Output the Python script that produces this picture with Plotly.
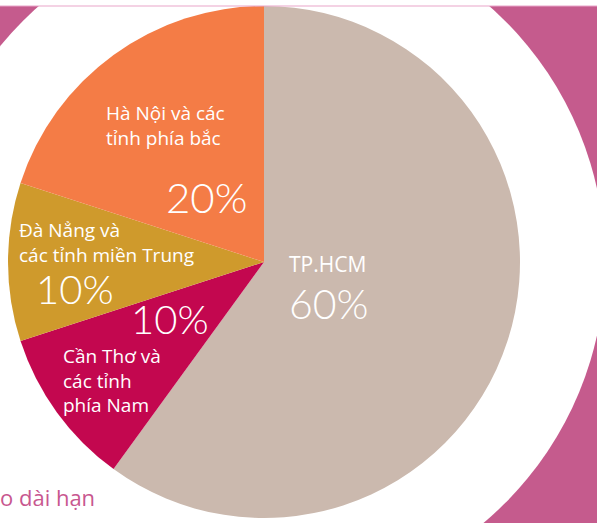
import plotly.graph_objects as go

W, H = 597, 523

regions = ["TP.HCM", "Cần Thơ và các tỉnh phía Nam", "Đà Nẳng và các tỉnh miền Trung", "Hà Nội và các tỉnh phía bắc"]
shares = [60, 10, 10, 20]
slice_colors = ["#cbb9ae", "#c3074f", "#cf9a2c", "#f47c46"]

# label texts and percent labels
label_texts = ["TP.HCM", "Cần Thơ và<br>các tỉnh<br>phía Nam", "Đà Nẳng và<br>các tỉnh miền Trung", "Hà Nội và các<br>tỉnh phía bắc"]
pct_texts = [f"{v}%" for v in shares]
footer_text = "o dài hạn"

PINK = "#c55b8d"

def px(x):
    return x / W

def py(y):
    return (H - y) / H

cx, cy, r = 264, 262, 256

fig = go.Figure(go.Pie(
    labels=regions,
    values=shares,
    sort=False,
    direction="clockwise",
    rotation=0,
    marker=dict(colors=slice_colors, line=dict(width=0)),
    textinfo="none",
    hoverinfo="label+percent",
    showlegend=False,
    domain=dict(x=[px(cx - r), px(cx + r)], y=[py(cy + r), py(cy - r)]),
))

R2 = 341
shapes = [
    dict(type="circle", xref="paper", yref="paper", layer="below",
         x0=px(cx - R2), x1=px(cx + R2), y0=py(cy + R2), y1=py(cy - R2),
         fillcolor="white", line=dict(width=0)),
    dict(type="rect", xref="paper", yref="paper", layer="below",
         x0=px(-5), x1=px(160), y0=py(530), y1=py(440),
         fillcolor="white", line=dict(width=0)),
    dict(type="rect", xref="paper", yref="paper", layer="below",
         x0=px(-5), x1=px(W + 5), y0=py(6), y1=py(-5),
         fillcolor="white", line=dict(width=0)),
    dict(type="line", xref="paper", yref="paper", layer="above",
         x0=0, x1=1, y0=py(6), y1=py(6),
         line=dict(color="#eaa6ca", width=1.2)),
]

LBL = dict(family="Open Sans, Noto Sans, sans-serif", size=19, color="white")
PCT = dict(family="Lato, Open Sans, sans-serif", size=42, color="white", weight=300)

def ann(text, x, y, font, xanchor="left", yanchor="middle"):
    return dict(text=text, x=px(x), y=py(y), xref="paper", yref="paper",
                xanchor=xanchor, yanchor=yanchor, showarrow=False,
                align="left", font=font)

annotations = [
    ann(label_texts[0], 287, 264, dict(LBL, size=21)),
    ann(pct_texts[0], 287, 304, dict(PCT, size=41)),
    ann(label_texts[1], 61, 380, LBL),
    ann(pct_texts[1], 129, 319, dict(PCT, size=40)),
    ann(label_texts[2], 17, 242, LBL),
    ann(pct_texts[2], 34, 289, dict(PCT, size=40)),
    ann(label_texts[3], 104, 126, LBL),
    ann(pct_texts[3], 164, 197, PCT),
    ann(footer_text, -2, 497, dict(family="Open Sans, Noto Sans, sans-serif", size=22, color="#c8578f")),
]

fig.update_layout(
    width=W, height=H,
    margin=dict(l=0, r=0, t=0, b=0),
    paper_bgcolor=PINK,
    plot_bgcolor=PINK,
    shapes=shapes,
    annotations=annotations,
)

fig.write_html("out.html", post_script="document.body.style.margin='0';",
               config={"displayModeBar": False})
